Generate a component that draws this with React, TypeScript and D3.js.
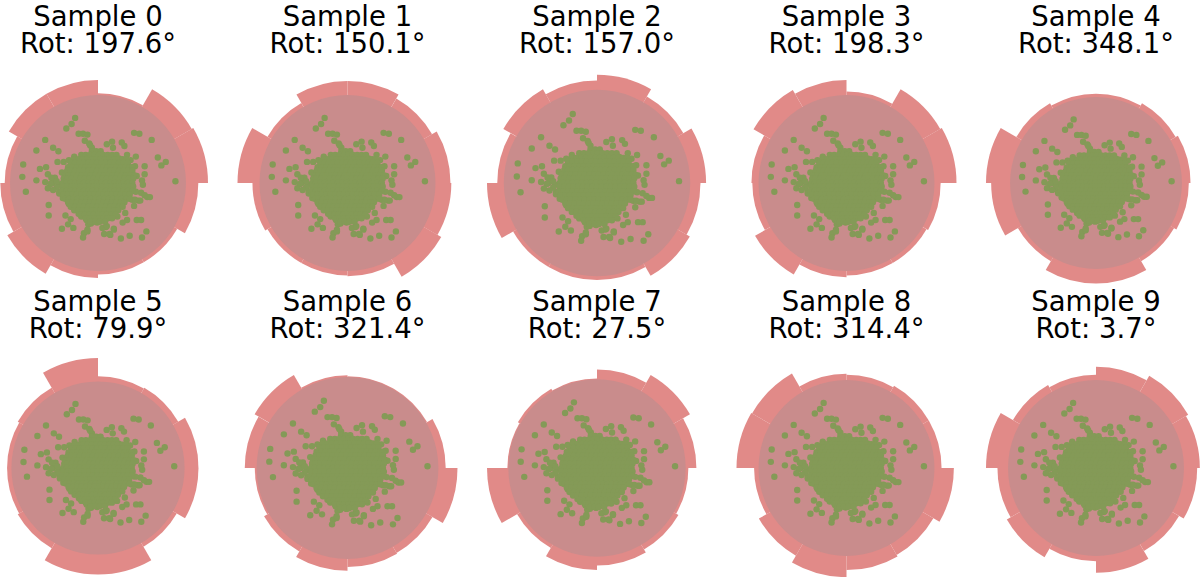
import React, { useEffect, useRef } from 'react';
import * as d3 from 'd3';

const sampleIds = [0, 1, 2, 3, 4, 5, 6, 7, 8, 9];
const rotations = [197.6, 150.1, 157.0, 198.3, 348.1, 79.9, 321.4, 27.5, 314.4, 3.7];

// 12 sectors of 30 degrees, counter-clockwise from the right
const sectorStarts = [0, 30, 60, 90, 120, 150, 180, 210, 240, 270, 300, 330];
const sectorRadii = [
  [125, 123, 102, 117, 117, 106, 111, 119, 108, 104, 104, 114],
  [117, 111, 116, 116, 105, 125, 108, 105, 105, 106, 123, 118],
  [117, 107, 116, 110, 116, 107, 118, 104, 104, 104, 115, 111],
  [125, 123, 104, 117, 122, 108, 107, 120, 107, 105, 105, 107],
  [110, 107, 104, 104, 107, 128, 122, 105, 117, 117, 105, 108],
  [116, 107, 106, 127, 107, 105, 105, 107, 123, 123, 105, 116],
  [108, 101, 101, 102, 118, 113, 102, 106, 113, 109, 108, 121],
  [112, 121, 111, 101, 103, 101, 124, 104, 115, 110, 106, 103],
  [108, 108, 106, 107, 124, 125, 105, 115, 124, 116, 114, 122],
  [118, 121, 115, 106, 109, 125, 112, 117, 106, 119, 109, 115],
];
const diskRadius = 100;

// scatter points, same for every sample (x right, y down, disk radius = 100)
const outerPoints = [
  [-26, -74], [-30, -67], [-36, -62], [-22, -56], [-17, -56], [-12, -55], [41, -57], [47, -56],
  [61, -49], [-60, -49], [-70, -37], [-51, -40], [-45, -36], [68, -29], [77, -24], [72, -20],
  [-85, -21], [-86, -7], [-82, 10], [88, -2], [-66, -16], [-59, -18], [-70, -3], [-60, -1],
  [-57, -10], [-46, -24], [-39, -24], [-41, -12], [-52, 0], [-56, 25], [-56, 37], [-41, 52],
  [-28, 51], [-37, 37], [-31, 41], [-16, 57], [-17, 62], [-12, 55], [7, 58], [14, 59],
  [26, 63], [36, 60], [50, 62], [55, 55], [44, 42], [49, 42], [56, 16], [59, 16],
  [53, -19], [43, -30], [33, -32], [10, -44], [16, -47], [27, -46], [30, -42], [-7, -40],
  [-15, -48], [-10, -45], [53, -10], [51, 2], [49, 11], [46, 20], [41, 26], [31, 34],
  [22, 38], [18, 52], [9, 50], [5, 51], [-8, 42], [-11, 47], [-26, 29], [-33, 24],
  [-40, 17], [-44, 10], [-45, 2], [-49, -6], [-33, -26], [-27, -30], [24, -28], [37, -26],
  [42, -19], [44, -8], [43, 10], [39, 19], [48, 20], [33, 42], [28, 45], [-1, 45],
  [-19, 38], [-22, 35], [-53, -6], [-47, -2], [-54, 1], [-57, 6], [-47, 5], [-51, 8],
  [-44, 12], [-34, 47], [-24, 28], [-13, 42], [-8, 46], [-12, 53], [10, 49], [13, 58],
  [18, 53], [17, -40], [53, 14], [42, 19], [50, -3], [-9, -43],
];
const coreRows: [number, number[]][] = [
  [-36, [-7, -2, 3]],
  [-32, [-19, -14, -9, -4, 1, 6, 11, 16, 21]],
  [-27, [-27, -22, -17, -12, -7, -2, 3, 8, 13, 18, 23, 28, 32]],
  [-23, [-31, -26, -21, -16, -11, -6, -1, 4, 9, 14, 19, 24, 29, 34]],
  [-18, [-34, -29, -24, -19, -14, -9, -4, 1, 6, 11, 16, 21, 26, 31, 36, 39]],
  [-14, [-35, -31, -26, -21, -16, -11, -6, -1, 4, 9, 14, 19, 24, 29, 34, 39]],
  [-9, [-38, -33, -28, -23, -18, -13, -8, -3, 2, 7, 12, 17, 22, 27, 32, 37, 41]],
  [-5, [-39, -35, -30, -25, -20, -15, -10, -5, 0, 5, 10, 15, 20, 25, 30, 35, 40]],
  [0, [-40, -36, -31, -26, -21, -16, -11, -6, -1, 4, 9, 14, 19, 24, 29, 34, 39]],
  [4, [-40, -35, -30, -25, -20, -15, -10, -5, 0, 5, 10, 15, 20, 25, 30, 35, 40]],
  [9, [-41, -36, -31, -26, -21, -16, -11, -6, -1, 4, 9, 14, 19, 24, 29, 34, 39]],
  [13, [-39, -34, -29, -24, -19, -14, -9, -4, 1, 6, 11, 16, 21, 26, 31, 36]],
  [18, [-37, -33, -28, -23, -18, -13, -8, -3, 2, 7, 12, 17, 22, 27, 32, 36]],
  [22, [-34, -29, -24, -19, -14, -9, -4, 1, 6, 11, 16, 21, 26, 30]],
  [27, [-31, -26, -21, -16, -11, -6, -1, 4, 9, 14, 19, 24, 28]],
  [31, [-27, -22, -17, -12, -7, -2, 3, 8, 13, 18, 23]],
  [36, [-20, -15, -10, -5, 0, 5, 10, 15, 20]],
  [40, [-14, -9, -4, 1, 6, 11, 16]],
  [44, [-8, -3, 2, 8]],
];

const W = 1200;
const H = 577;

const App = () => {
  const svgRef = useRef(null);

  useEffect(() => {
    document.body.style.margin = '0';
    const svg = d3.select(svgRef.current);
    svg.selectAll('*').remove();

    const points = outerPoints.concat(
      coreRows.flatMap(([y, xs]) => xs.map(x => [x, y]))
    );

    const colX = d3.scaleLinear().domain([0, 4]).range([98, 1096]);
    const rowY = d3.scaleLinear().domain([0, 1]).range([183, 468]);
    const outerPx = 110;

    sampleIds.forEach((id, i) => {
      const cx = colX(i % 5);
      const cy = rowY(Math.floor(i / 5));
      const radii = sectorRadii[i];
      const rMax = d3.max(radii);
      const r = d3.scaleLinear().domain([0, rMax]).range([0, outerPx]);
      const x = d3.scaleLinear().domain([-rMax, rMax]).range([cx - outerPx, cx + outerPx]);
      const y = d3.scaleLinear().domain([-rMax, rMax]).range([cy - outerPx, cy + outerPx]);

      const g = svg.append('g');
      const arc = d3.arc();

      g.append('g')
        .attr('transform', `translate(${cx},${cy})`)
        .selectAll('path')
        .data(sectorStarts.map((a, k) => ({ a, v: radii[k] })))
        .enter()
        .append('path')
        .attr('d', d =>
          arc({
            innerRadius: 0,
            outerRadius: r(d.v),
            startAngle: Math.PI / 2 - ((d.a + 30) * Math.PI) / 180,
            endAngle: Math.PI / 2 - (d.a * Math.PI) / 180,
          })
        )
        .attr('fill', '#e18a88');

      g.append('circle')
        .attr('cx', cx)
        .attr('cy', cy)
        .attr('r', r(diskRadius))
        .attr('fill', '#c98c8c');

      g.append('g')
        .selectAll('circle')
        .data(points)
        .enter()
        .append('circle')
        .attr('cx', d => x(d[0]))
        .attr('cy', d => y(d[1]))
        .attr('r', 3.2)
        .attr('fill', '#849a57');

      const title = g.append('text')
        .attr('text-anchor', 'middle')
        .attr('font-family', 'DejaVu Sans')
        .attr('font-size', 27.5)
        .attr('fill', '#000');
      title.append('tspan').attr('x', cx).attr('y', cy - 157).text(`Sample ${id}`);
      title.append('tspan').attr('x', cx).attr('y', cy - 130).text(`Rot: ${rotations[i].toFixed(1)}°`);
    });
  }, []);

  return <svg ref={svgRef} width={W} height={H} style={{ display: 'block', background: '#fff' }} />;
};

export default App;
